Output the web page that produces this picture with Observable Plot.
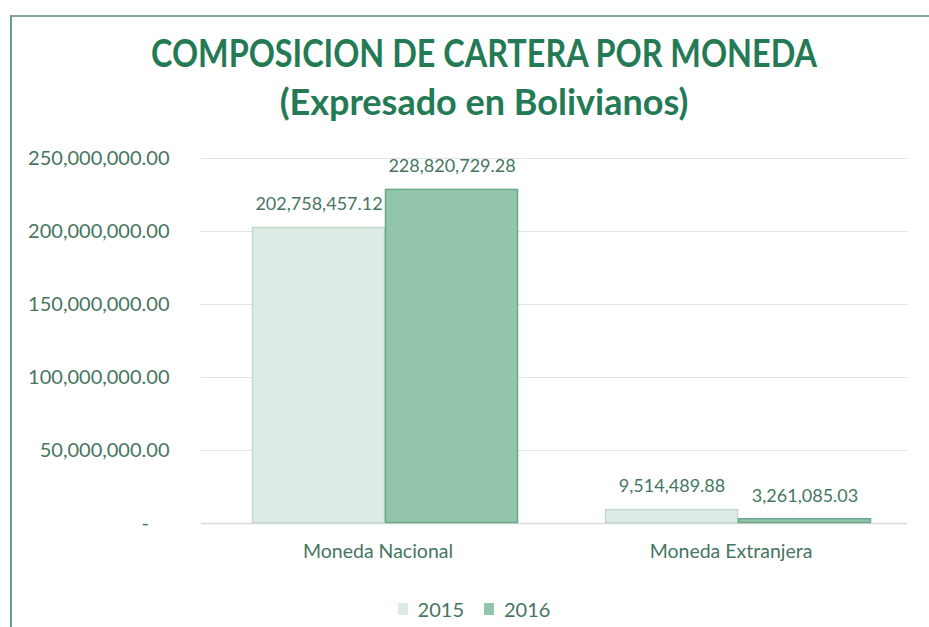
<!DOCTYPE html>
<html><head><meta charset="utf-8">
<script src="https://cdn.jsdelivr.net/npm/d3@7"></script>
<script src="https://cdn.jsdelivr.net/npm/@observablehq/plot@0.6"></script>
<style>
body{margin:0;background:#fff;font-family:Lato,"Open Sans",sans-serif;}
#frame{position:absolute;left:10px;top:15px;width:940px;height:640px;border-top:2px solid #7fa898;border-left:2px solid #6f9c88;}
.t{position:absolute;left:0;width:968px;text-align:center;color:#237a55;font-weight:bold;font-family:Lato,sans-serif;white-space:nowrap;}
#t1{top:29px;font-size:39px;transform:scaleX(0.83);transform-origin:484px 0;}
#t2{top:79px;font-size:36px;}
#chart{position:absolute;left:0;top:140px;}
#legend{position:absolute;left:0;top:592px;width:968px;display:flex;justify-content:center;}
</style></head>
<body>
<div id="frame"></div>
<div class="t" id="t1">COMPOSICION DE CARTERA POR MONEDA</div>
<div class="t" id="t2">(Expresado en Bolivianos)</div>
<div id="chart"></div>
<div id="legend"></div>
<script>
const categories = ["Moneda Nacional", "Moneda Extranjera"];
const years = ["2015", "2016"];
const values2015 = [202758457.12, 9514489.88];
const values2016 = [228820729.28, 3261085.03];
const yTicks = [0, 50000000, 100000000, 150000000, 200000000, 250000000];

const fills = ["#dcebe3", "#93c4ac"];
const strokes = ["#c3d9cc", "#6aa88c"];

const data = [];
categories.forEach((c, i) => {
  data.push({cat: c, year: years[0], value: values2015[i]});
  data.push({cat: c, year: years[1], value: values2016[i]});
});
const fmt = d3.format(",.2f");
const txt = "#46765f";

const chart = Plot.plot({
  width: 929,
  height: 420,
  marginLeft: 200,
  marginRight: 22,
  marginTop: 18,
  marginBottom: 37,
  style: {fontFamily: "Lato, sans-serif", fontSize: "19.5px", color: txt, background: "transparent", overflow: "visible"},
  fx: {domain: categories, padding: 0, label: null, axis: "bottom", tickSize: 0, tickPadding: 21},
  x: {domain: years, paddingInner: 0.0, paddingOuter: 0.319, align: 0.59, axis: null},
  y: {domain: [0, 250000000], axis: null},
  color: {domain: years, range: fills},
  marks: [
    Plot.gridY(yTicks, {stroke: "#e3e3e3", strokeOpacity: 1}),
    Plot.axisY(yTicks, {tickSize: 0, tickPadding: 32, label: null, fontSize: 20, fill: txt,
      tickFormat: d => d === 0 ? "-\u00a0\u00a0\u00a0\u00a0" : fmt(d)}),
    Plot.ruleY([0], {stroke: "#d9d9d9", strokeWidth: 1.5}),
    Plot.barY(data, {fx: "cat", x: "year", y: "value", fill: "year",
      stroke: d => strokes[years.indexOf(d.year)], strokeWidth: 1.5, inset: 0.5}),
    Plot.text(data, {fx: "cat", x: "year", y: "value", text: d => fmt(d.value), dy: -23,
      fill: txt, fontSize: 18})
  ]
});
document.getElementById("chart").appendChild(chart);

const leg = Plot.legend({color: {domain: years, range: fills}, swatchWidth: 10, swatchHeight: 12,
  style: {fontFamily: "Lato, sans-serif", fontSize: "20px", color: txt}});
document.getElementById("legend").appendChild(leg);
</script>
</body></html>
